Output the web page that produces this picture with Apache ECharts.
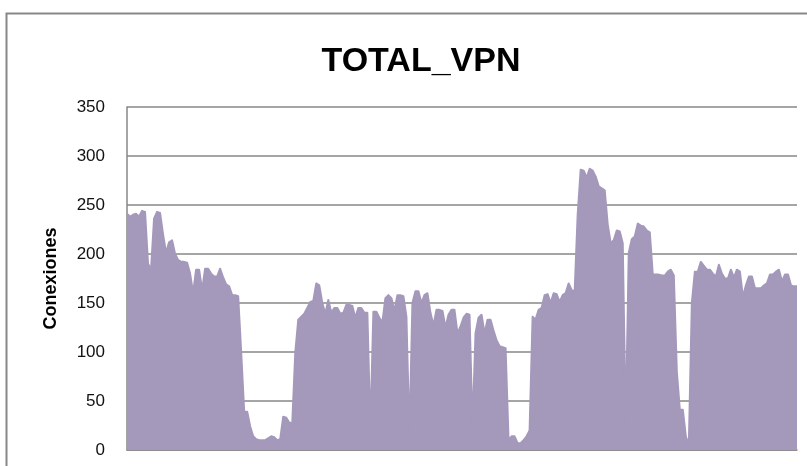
<!DOCTYPE html>
<html>
<head>
<meta charset="utf-8">
<script src="https://cdn.jsdelivr.net/npm/echarts@6/dist/echarts.min.js"></script>
<style>
  html, body { margin: 0; padding: 0; background: #fff; }
  #chart { width: 807px; height: 466px; }
</style>
</head>
<body>
<div id="chart"></div>
<script>
var chartDom = document.getElementById('chart');
var myChart = echarts.init(chartDom);
var option;

// envelope of connections, one reading every ~3px along the time axis
let conexiones = [
  241, 238, 240, 241, 238, 244, 243, 190, 184, 236, 243, 242, 220, 201, 212, 214,
  200, 194, 192, 192, 191, 180, 160, 184, 184, 163, 185, 185, 180, 177, 177, 185,
  176, 169, 167, 158, 158, 157, 100, 39, 39, 24, 14, 11, 10, 10,
  10, 12, 14, 13, 10, 11, 34, 33, 28, 27, 99, 133, 136, 139, 145, 151,
  152, 170, 168, 150, 139, 153, 140, 145, 145, 139, 140, 148, 148, 147, 135, 145,
  145, 140, 140, 20, 141, 141, 135, 130, 155, 158, 155, 142, 158, 158, 157, 136,
  14, 150, 162, 162, 150, 158, 160, 140, 127, 143, 143, 142, 125, 138, 143, 143,
  119, 126, 135, 139, 138, 24, 119, 135, 138, 119, 133, 133, 122, 112, 106, 105,
  104, 10, 14, 14, 7, 7, 10, 14, 20, 136, 133, 143, 145, 158, 159, 150,
  160, 159, 151, 158, 160, 170, 163, 162, 240, 286, 285, 278, 287, 285, 279, 269,
  267, 265, 230, 211, 214, 224, 223, 211, 24, 201, 215, 218, 231, 229, 228, 224,
  222, 179, 179, 179, 178, 178, 182, 184, 178, 80, 41, 41, 14, 5, 150, 182,
  182, 192, 188, 184, 184, 180, 177, 189, 180, 175, 175, 184, 176, 184, 182, 156,
  168, 177, 177, 165, 165, 165, 168, 170, 179, 179, 182, 184, 172, 179, 179, 168,
  167, 167
];
let muestras = conexiones.map(function (v, i) { return String(i + 1); });
let yTicks = { min: 0, max: 350, interval: 50 };

let purple = '#a498bb';
let gridGrey = '#878787';

option = {
  animation: false,
  backgroundColor: '#ffffff',
  title: {
    text: 'TOTAL_VPN',
    left: 416,
    top: 40,
    textAlign: 'center',
    textStyle: {
      fontFamily: '"Liberation Sans Narrow", "Liberation Sans", Arial, sans-serif',
      fontWeight: 'bold',
      fontSize: 34,
      color: '#000'
    }
  },
  graphic: [
    {
      type: 'rect',
      silent: true,
      z: -1,
      shape: { x: 6.5, y: 13.5, width: 900, height: 600 },
      style: { fill: 'none', stroke: gridGrey, lineWidth: 2 }
    }
  ],
  grid: {
    left: 127,
    right: 10,
    top: 107,
    bottom: 16,
    containLabel: false
  },
  xAxis: {
    type: 'category',
    data: muestras,
    boundaryGap: false,
    axisLine: { show: true, lineStyle: { color: gridGrey, width: 1.5 } },
    axisTick: { show: false },
    axisLabel: { show: false },
    splitLine: { show: false }
  },
  yAxis: {
    type: 'value',
    min: yTicks.min,
    max: yTicks.max,
    interval: yTicks.interval,
    name: 'Conexiones',
    nameLocation: 'middle',
    nameRotate: 90,
    nameGap: 67,
    nameTextStyle: {
      fontFamily: '"Liberation Sans", Arial, sans-serif',
      fontWeight: 'bold',
      fontSize: 18,
      color: '#000'
    },
    axisLine: { show: true, lineStyle: { color: gridGrey, width: 1.5 } },
    axisTick: { show: false },
    axisLabel: {
      margin: 22,
      fontFamily: '"Liberation Sans", Arial, sans-serif',
      fontSize: 17,
      color: '#111'
    },
    splitLine: { show: true, lineStyle: { color: gridGrey, width: 1.5 } }
  },
  series: [
    {
      name: 'TOTAL_VPN',
      type: 'line',
      data: conexiones,
      symbol: 'none',
      smooth: false,
      lineStyle: { color: purple, width: 2, join: 'round' },
      areaStyle: { color: purple, opacity: 1 },
      z: 3
    }
  ]
};

option && myChart.setOption(option);
</script>
</body>
</html>
